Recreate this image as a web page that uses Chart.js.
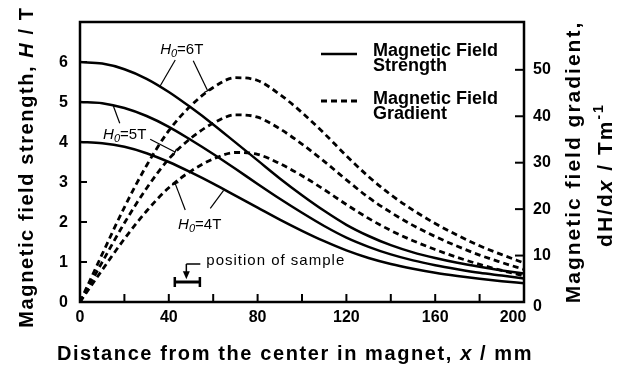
<!DOCTYPE html>
<html>
<head>
<meta charset="utf-8">
<script src="https://cdn.jsdelivr.net/npm/chart.js@4.4.1/dist/chart.umd.min.js"></script>
<style>
html, body { margin: 0; padding: 0; background: #fff; }
</style>
</head>
<body>
<canvas id="chart" width="621" height="368"></canvas>
<script>
// distance from the magnet centre, mm
const distance = [0, 10, 20, 30, 40, 50, 60, 70, 80, 90, 100, 110, 120, 130, 140, 150, 160, 170, 180, 190, 200];

// field strength H, T
const strength6 = [6.00, 5.96, 5.82, 5.58, 5.25, 4.86, 4.44, 3.99, 3.54, 3.09, 2.67, 2.28, 1.93, 1.65, 1.42, 1.24, 1.10, 0.98, 0.88, 0.79, 0.71];
const strength5 = [5.00, 4.97, 4.85, 4.65, 4.38, 4.05, 3.70, 3.33, 2.95, 2.58, 2.23, 1.90, 1.61, 1.38, 1.19, 1.04, 0.92, 0.82, 0.73, 0.66, 0.59];
const strength4 = [4.00, 3.97, 3.88, 3.72, 3.50, 3.24, 2.96, 2.66, 2.36, 2.06, 1.78, 1.52, 1.29, 1.10, 0.95, 0.83, 0.73, 0.65, 0.58, 0.52, 0.47];

// field gradient dH/dx, T/m
const gradient6 = [0, 10.3, 20.4, 29.4, 36.9, 42.3, 46.2, 48.3, 47.7, 44.7, 40.8, 36.3, 31.5, 27.0, 23.1, 19.8, 16.9, 14.4, 12.1, 10.2, 8.4];
const gradient5 = [0, 8.6, 17.0, 24.5, 30.8, 35.3, 38.5, 40.3, 39.8, 37.3, 34.0, 30.3, 26.3, 22.5, 19.3, 16.5, 14.1, 12.0, 10.1, 8.5, 7.0];
const gradient4 = [0, 6.9, 13.6, 19.6, 24.6, 28.2, 30.8, 32.2, 31.8, 29.8, 27.2, 24.2, 21.0, 18.0, 15.4, 13.2, 11.3, 9.6, 8.1, 6.8, 5.6];

// axes
const xLabels = [0, 40, 80, 120, 160, 200];
const xTickMarks = [20, 40, 60, 80, 100, 120, 140, 160, 180];
const leftLabels = [0, 1, 2, 3, 4, 5, 6];
const rightLabels = [0, 10, 20, 30, 40, 50];

// sample position (mm)
const sampleFrom = 42.7;
const sampleTo = 54.0;

const FAMILY = '"Liberation Sans", Arial, Helvetica, sans-serif';

function pts(ys) {
    return distance.map((d, i) => ({ x: d, y: ys[i] }));
}

function solid(ys) {
    return { data: pts(ys), yAxisID: "yH", borderColor: "#000", borderWidth: 2.5, pointRadius: 0, fill: false, cubicInterpolationMode: "monotone" };
}

function dashed(ys) {
    return { data: pts(ys), yAxisID: "yG", borderColor: "#000", borderWidth: 2.8, borderDash: [6, 4], pointRadius: 0, fill: false, cubicInterpolationMode: "monotone" };
}

function drawRuns(ctx, parts, x, y, align) {
    let w = 0;
    parts.forEach(p => { ctx.font = p[1]; w += ctx.measureText(p[0]).width; });
    let cx = align === "center" ? x - w / 2 : x;
    parts.forEach(p => {
        ctx.font = p[1];
        ctx.fillText(p[0], cx, y + (p[2] || 0));
        cx += ctx.measureText(p[0]).width;
    });
}

function line(ctx, x1, y1, x2, y2) {
    ctx.beginPath();
    ctx.moveTo(x1, y1);
    ctx.lineTo(x2, y2);
    ctx.stroke();
}

const overlay = {
    id: "overlay",
    afterDraw(chart) {
        const ctx = chart.ctx;
        const a = chart.chartArea;
        const x = chart.scales.x, yH = chart.scales.yH, yG = chart.scales.yG;
        const px = v => x.getPixelForValue(v);
        const py = v => yH.getPixelForValue(v);
        ctx.save();
        ctx.strokeStyle = "#000";
        ctx.fillStyle = "#000";
        ctx.lineCap = "butt";

        // frame
        ctx.lineWidth = 2.5;
        ctx.strokeRect(a.left, a.top, a.right - a.left, a.bottom - a.top);

        // inward tick marks
        ctx.lineWidth = 2;
        leftLabels.forEach(v => { if (v > 0) line(ctx, a.left, py(v), a.left + 7, py(v)); });
        rightLabels.forEach(v => { if (v > 0) line(ctx, a.right - 9, yG.getPixelForValue(v), a.right, yG.getPixelForValue(v)); });
        xTickMarks.forEach(v => line(ctx, px(v), a.bottom, px(v), a.bottom - 8));

        // tick labels
        ctx.letterSpacing = "0px";
        ctx.font = "bold 16px " + FAMILY;
        ctx.textBaseline = "middle";
        ctx.textAlign = "right";
        leftLabels.forEach(v => ctx.fillText(String(v), a.left - 12, py(v) + 1));
        ctx.textAlign = "left";
        rightLabels.forEach(v => ctx.fillText(String(v), a.right + 9, yG.getPixelForValue(v) + (v === 0 ? 5 : 0)));
        ctx.textAlign = "center";
        xLabels.forEach(v => ctx.fillText(String(v), px(v) - (v === 200 ? 11 : 0), a.bottom + 16));

        // axis titles
        ctx.textAlign = "left";
        ctx.textBaseline = "alphabetic";
        ctx.letterSpacing = "1.6px";
        const b20 = "bold 20px " + FAMILY, bi20 = "italic bold 20px " + FAMILY;
        drawRuns(ctx, [["Distance from the center in magnet, ", b20], ["x", bi20], [" / mm", b20]], 295, 360, "center");

        ctx.save();
        ctx.translate(33, 167);
        ctx.rotate(-Math.PI / 2);
        drawRuns(ctx, [["Magnetic field strength, ", b20], ["H", bi20], [" / T", b20]], 0, 0, "center");
        ctx.restore();

        ctx.letterSpacing = "2px";
        const b21 = "bold 21px " + FAMILY, bi21 = "italic bold 21px " + FAMILY;
        ctx.save();
        ctx.translate(580, 162);
        ctx.rotate(-Math.PI / 2);
        drawRuns(ctx, [["Magnetic field gradient,", b21]], 0, 0, "center");
        ctx.restore();

        ctx.save();
        ctx.translate(612, 175);
        ctx.rotate(-Math.PI / 2);
        drawRuns(ctx, [["dH/d", b21], ["x", bi21], [" / Tm", b21], ["-1", "bold 14px " + FAMILY, -9]], 0, 0, "center");
        ctx.restore();

        // legend
        ctx.letterSpacing = "0px";
        const b18 = "bold 18px " + FAMILY;
        ctx.lineWidth = 2.5;
        line(ctx, 321, 54, 357, 54);
        ctx.setLineDash([6, 4]);
        ctx.lineWidth = 2.8;
        line(ctx, 321, 101, 357, 101);
        ctx.setLineDash([]);
        ctx.font = b18;
        ctx.fillText("Magnetic Field", 373, 56);
        ctx.fillText("Strength", 373, 71);
        ctx.fillText("Magnetic Field", 373, 104);
        ctx.fillText("Gradient", 373, 119);

        // H0 labels with leader lines (in mm / T coordinates)
        const r15 = "15px " + FAMILY, i15 = "italic 15px " + FAMILY, i11 = "italic 11px " + FAMILY;
        const h0 = n => [["H", i15], ["0", i11, 3], ["=" + n + "T", r15]];
        drawRuns(ctx, h0(6), px(36.1), py(6.2), "left");
        drawRuns(ctx, h0(5), px(10.4), py(4.08), "left");
        drawRuns(ctx, h0(4), px(44.2), py(1.83), "left");

        const leaders = [
            [42.9, 6.05, 36.1, 5.40, false],
            [51.0, 6.03, 57.5, 5.28, true],
            [17.9, 4.47, 14.9, 4.92, false],
            [31.6, 4.07, 42.8, 3.75, true],
            [47.4, 2.30, 42.9, 2.96, true],
            [58.7, 2.34, 64.7, 2.79, false]
        ];
        ctx.lineWidth = 1.2;
        leaders.forEach(l => {
            const x1 = px(l[0]), y1 = py(l[1]), x2 = px(l[2]), y2 = py(l[3]);
            line(ctx, x1, y1, x2, y2);
            if (l[4]) {
                const dx = x2 - x1, dy = y2 - y1, len = Math.hypot(dx, dy);
                const nx = -dy / len * 3.5, ny = dx / len * 3.5;
                line(ctx, x2 - nx, y2 - ny, x2 + nx, y2 + ny);
            }
        });

        // position of sample
        ctx.letterSpacing = "1px";
        ctx.font = r15;
        ctx.fillText("position of sample", px(56.9), py(0.92));
        ctx.letterSpacing = "0px";
        const mid = 47.9;
        ctx.lineWidth = 1.5;
        line(ctx, px(mid), py(0.95), px(54.2), py(0.95));
        line(ctx, px(mid), py(0.95), px(mid), py(0.66));
        ctx.beginPath();
        ctx.moveTo(px(mid), py(0.57));
        ctx.lineTo(px(mid) - 3.5, py(0.57) - 8);
        ctx.lineTo(px(mid) + 3.5, py(0.57) - 8);
        ctx.closePath();
        ctx.fill();
        ctx.lineWidth = 3;
        line(ctx, px(sampleFrom), py(0.5), px(sampleTo), py(0.5));
        ctx.lineWidth = 2.5;
        line(ctx, px(sampleFrom), py(0.5) - 5, px(sampleFrom), py(0.5) + 5);
        line(ctx, px(sampleTo), py(0.5) - 5, px(sampleTo), py(0.5) + 5);

        ctx.restore();
    }
};

new Chart(document.getElementById("chart"), {
    type: "line",
    data: {
        datasets: [
            solid(strength6), solid(strength5), solid(strength4),
            dashed(gradient6), dashed(gradient5), dashed(gradient4)
        ]
    },
    options: {
        responsive: false,
        animation: false,
        devicePixelRatio: 1,
        layout: { padding: { left: 80, right: 97, top: 22, bottom: 66 } },
        plugins: { legend: { display: false }, tooltip: { enabled: false } },
        scales: {
            x: { type: "linear", min: 0, max: 200, display: false },
            yH: { type: "linear", position: "left", min: 0, max: 7, display: false },
            yG: { type: "linear", position: "right", min: 0, max: 60.3, display: false }
        }
    },
    plugins: [overlay]
});
</script>
</body>
</html>
